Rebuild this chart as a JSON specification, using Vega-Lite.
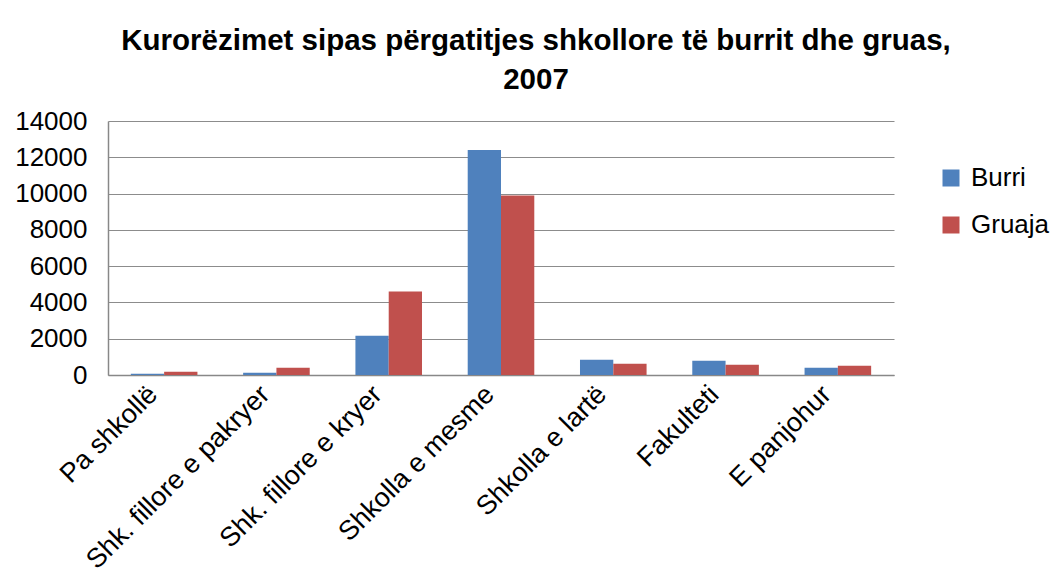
{
  "$schema": "https://vega.github.io/schema/vega-lite/v6.json",
  "width": 786,
  "height": 254,
  "autosize": {"type": "none"},
  "padding": {"left": 108, "top": 121, "right": 159, "bottom": 211},
  "background": "white",
  "title": {
    "text": ["Kurorëzimet sipas përgatitjes shkollore të burrit dhe gruas,", "2007"],
    "font": "Liberation Sans",
    "fontSize": 29.5,
    "fontWeight": "bold",
    "color": "black",
    "anchor": "middle",
    "frame": "group",
    "dx": 35,
    "lineHeight": 39,
    "offset": 13
  },
  "data": {
    "values": [
      {"kategoria": "Pa shkollë", "gjinia": "Burri", "vlera": 70},
      {"kategoria": "Pa shkollë", "gjinia": "Gruaja", "vlera": 185},
      {"kategoria": "Shk. fillore e pakryer", "gjinia": "Burri", "vlera": 130},
      {"kategoria": "Shk. fillore e pakryer", "gjinia": "Gruaja", "vlera": 400},
      {"kategoria": "Shk. fillore e kryer", "gjinia": "Burri", "vlera": 2170},
      {"kategoria": "Shk. fillore e kryer", "gjinia": "Gruaja", "vlera": 4600},
      {"kategoria": "Shkolla e mesme", "gjinia": "Burri", "vlera": 12400},
      {"kategoria": "Shkolla e mesme", "gjinia": "Gruaja", "vlera": 9900},
      {"kategoria": "Shkolla e lartë", "gjinia": "Burri", "vlera": 840},
      {"kategoria": "Shkolla e lartë", "gjinia": "Gruaja", "vlera": 625},
      {"kategoria": "Fakulteti", "gjinia": "Burri", "vlera": 790},
      {"kategoria": "Fakulteti", "gjinia": "Gruaja", "vlera": 570},
      {"kategoria": "E panjohur", "gjinia": "Burri", "vlera": 400},
      {"kategoria": "E panjohur", "gjinia": "Gruaja", "vlera": 510}
    ]
  },
  "mark": {"type": "bar"},
  "encoding": {
    "x": {
      "field": "kategoria",
      "type": "nominal",
      "sort": null,
      "title": null,
      "scale": {"paddingInner": 0.407, "paddingOuter": 0.2035},
      "axis": {
        "labelAngle": -45,
        "labelAlign": "right",
        "labelBaseline": "middle",
        "labelFont": "Liberation Sans",
        "labelFontSize": 27,
        "labelColor": "black",
        "labelPadding": 15,
        "labelOffset": -11,
        "ticks": false,
        "domainColor": "#888888",
        "domainWidth": 1.5,
        "labelLimit": 0
      }
    },
    "xOffset": {
      "field": "gjinia",
      "type": "nominal",
      "sort": ["Burri", "Gruaja"],
      "scale": {"paddingInner": 0, "paddingOuter": 0}
    },
    "y": {
      "field": "vlera",
      "type": "quantitative",
      "title": null,
      "scale": {"domain": [0, 14000], "nice": false},
      "axis": {
        "values": [0, 2000, 4000, 6000, 8000, 10000, 12000, 14000],
        "format": "d",
        "labelFont": "Liberation Sans",
        "labelFontSize": 26,
        "labelColor": "black",
        "labelPadding": 21,
        "ticks": false,
        "domainColor": "#888888",
        "domainWidth": 1.5,
        "gridColor": "#8c8c8c",
        "gridWidth": 1.2
      }
    },
    "color": {
      "field": "gjinia",
      "type": "nominal",
      "sort": ["Burri", "Gruaja"],
      "scale": {"domain": ["Burri", "Gruaja"], "range": ["#4F81BD", "#C0504D"]},
      "legend": {
        "title": null,
        "orient": "none",
        "legendX": 830,
        "legendY": 44,
        "symbolType": "square",
        "symbolSize": 289,
        "symbolStrokeWidth": 0,
        "labelFont": "Liberation Sans",
        "labelFontSize": 26,
        "labelColor": "black",
        "labelOffset": 7,
        "rowPadding": 21,
        "padding": 0
      }
    }
  },
  "config": {
    "view": {"stroke": null}
  }
}
